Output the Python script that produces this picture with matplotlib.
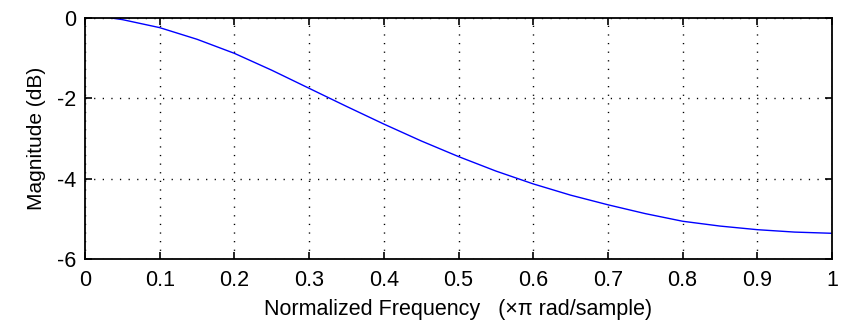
import matplotlib
matplotlib.use("Agg")
import matplotlib.pyplot as plt

# Normierte Frequenz (x pi rad/sample) und Betrag in dB
FREQ = [0.035, 0.05, 0.1, 0.15, 0.2, 0.25, 0.3, 0.35, 0.4, 0.45,
        0.5, 0.55, 0.6, 0.65, 0.7, 0.75, 0.8, 0.85, 0.9, 0.95, 1.0]
MAG_DB = [0.0, -0.04, -0.24, -0.53, -0.88, -1.30, -1.75, -2.20, -2.64, -3.06,
          -3.45, -3.81, -4.13, -4.41, -4.65, -4.87, -5.06, -5.18, -5.27, -5.33, -5.36]

X_TICKS = [0, 0.1, 0.2, 0.3, 0.4, 0.5, 0.6, 0.7, 0.8, 0.9, 1]
X_LABELS = ["0", "0.1", "0.2", "0.3", "0.4", "0.5", "0.6", "0.7", "0.8", "0.9", "1"]
Y_TICKS = [-6, -4, -2, 0]

plt.rcParams["font.family"] = ["Liberation Sans", "DejaVu Sans"]
plt.rcParams["lines.scale_dashes"] = False
plt.rcParams["axes.unicode_minus"] = False

fig = plt.figure(figsize=(8.41, 3.21), dpi=100)
ax = fig.add_axes([85 / 841, 1 - 259 / 321, 747 / 841, 241 / 321])

ax.plot(FREQ, MAG_DB, color="#0000ff", linewidth=1.0)

ax.set_xlim(0, 1)
ax.set_ylim(-6, 0)
ax.set_xticks(X_TICKS)
ax.set_xticklabels(X_LABELS)
ax.set_yticks(Y_TICKS)

# MATLAB-Look: Ticks innen, auf allen Seiten, gepunktetes Gitter
ax.tick_params(direction="in", length=5, width=1.2, top=True, right=True,
               labelsize=15.5, pad=6, colors="black")
ax.tick_params(axis="x", pad=8)
ax.grid(True, color="black", linestyle=(0, (0.9, 5.3)), linewidth=1.0)
for sp in ax.spines.values():
    sp.set_linewidth(1.3)

ax.set_xlabel("Normalized Frequency   (\u00d7\u03c0 rad/sample)", fontsize=15.5, labelpad=6)
ax.set_ylabel("Magnitude (dB)", fontsize=15, labelpad=8)

fig.savefig("out.png", dpi=100)
